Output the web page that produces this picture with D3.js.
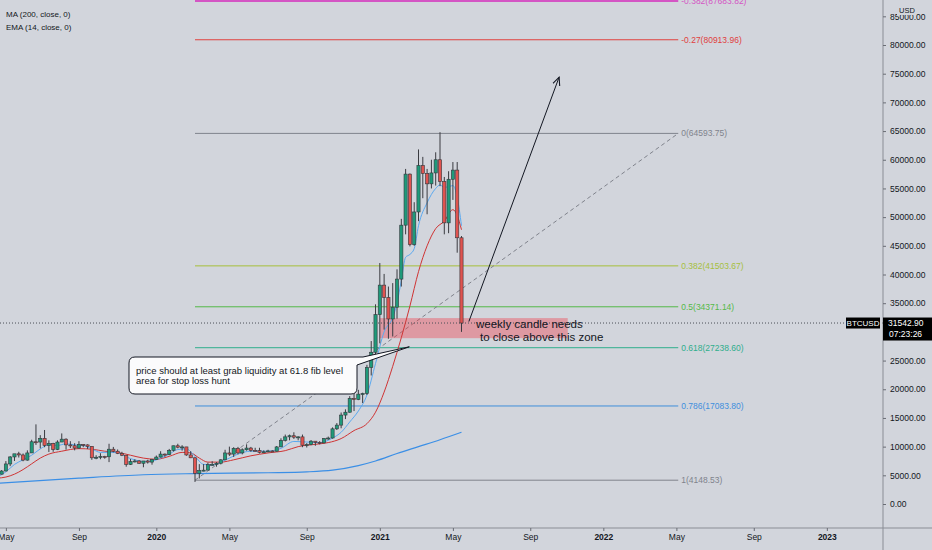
<!DOCTYPE html>
<html>
<head>
<meta charset="utf-8">
<script src="https://cdn.jsdelivr.net/npm/d3@7"></script>
<style>
  html, body { margin: 0; padding: 0; background: #d2d5dc; }
  svg { display: block; font-family: "Liberation Sans", Arial, sans-serif; }
</style>
</head>
<body>
<svg id="chart" width="932" height="550"></svg>
<script>
// weekly candles, BTCUSD, first week starts 2019-04-22 (Monday)
var firstWeek = "2019-04-22";
var opens = [5380,5200,5750,6980,8200,8750,8550,7650,8900,10850,10800,11450,10200,10550,9500,10800,11300,10300,10150,9750,10400,10300,10050,8050,8150,8300,8230,9550,9200,8800,8500,6900,7400,7500,7100,7500,7300,
  7750,8180,8700,8600,9350,10150,9900,9950,8550,8050,5350,5850,5900,6850,6900,7100,7700,8900,8700,9700,8900,9450,9750,9350,9300,9000,9100,9250,9200,9950,11100,11700,11900,11650,11700,10250,10350,10950,10750,10650,11400,11500,13100,13750,15500,16000,18400,18200,19150,19250,23800,26450,
  33000,38150,36000,32250,34300,39200,48600,57500,45200,50900,59000,57600,55800,57700,60000,56200,49000,56600,58200,46400];
var highs = [5630,5900,7480,8350,8700,9100,8800,9350,11200,13880,12000,12900,11100,10660,11100,12300,11450,10950,10600,10950,10450,10400,10100,8500,8850,8400,10500,9950,9500,9100,8500,7850,7800,7650,7500,7700,7850,
  8450,9200,8800,9600,10150,10500,10250,9950,9200,8150,6950,6950,7200,7450,7300,7800,9450,10000,9900,9950,9700,10400,9950,9800,9800,9350,9450,9350,10100,11450,12100,12100,12500,11800,12100,10600,11150,10950,10950,11500,11750,13350,14100,15950,16500,18800,19450,19900,19400,24250,28400,34800,
  42000,40100,37900,38500,40900,49700,58400,57600,52600,61800,60500,58400,60000,61300,64800,57000,58000,59600,59600,46700];
var lows = [5050,5150,5700,6600,7500,8100,7450,7550,8900,10300,9700,9900,9070,9100,9400,10800,9470,9750,9350,9650,9900,9600,7700,7800,7800,7900,7300,9000,8700,8350,6500,6800,7250,7000,6400,7050,6850,
  7700,8100,8250,8500,9150,9700,9300,8400,8000,3850,4450,5700,5900,6750,6500,6900,7650,8400,8200,8650,8650,9300,9100,9200,8800,8950,9050,9000,9150,9950,10900,11100,11350,11100,9900,9850,10250,10150,10400,10550,11200,11400,12900,13200,14800,15900,16200,18100,17600,19000,22400,25900,
  28000,30400,28800,29200,32300,37900,47000,44900,45000,49300,53300,50500,55000,55500,55400,47000,47200,53000,43800,30000];
var closes = [5200,5750,6980,8200,8750,8550,7650,8900,10850,10800,11450,10200,10550,9500,10800,11300,10300,10150,9750,10400,10300,10050,8050,8150,8300,8230,9550,9200,8800,8500,6900,7400,7500,7100,7500,7300,7750,
  8180,8700,8600,9350,10150,9900,9950,8550,8050,5350,5850,5900,6850,6900,7100,7700,8900,8700,9700,8900,9450,9750,9350,9300,9000,9100,9250,9200,9950,11100,11700,11900,11650,11700,10250,10350,10950,10750,10650,11400,11500,13100,13750,15500,16000,18400,18200,19150,19250,23800,26450,33000,
  38150,36000,32250,34300,39200,48600,57500,45200,50900,59000,57600,55800,57700,60000,56200,49000,56600,58200,46400,31542.9];

// indicator lines at sample weeks
var ma200Dates = ["2019-04-22","2019-09-02","2019-12-16","2020-03-09","2020-07-06","2020-09-07","2020-10-19","2020-11-30","2020-12-28","2021-02-01","2021-03-08","2021-04-12","2021-05-17"];
var ma200Values = [3600,4500,5100,5300,5450,5600,5900,6700,7500,8800,10000,11200,12500];

var fastDates = ["2019-04-22","2019-05-06","2019-05-20","2019-06-03","2019-06-17","2019-07-01","2019-07-15","2019-07-29","2019-08-12","2019-08-26","2019-09-09","2019-09-23","2019-10-07","2019-10-21","2019-11-04","2019-11-18","2019-12-02","2019-12-16","2019-12-30",
  "2020-01-13","2020-01-27","2020-02-10","2020-02-24","2020-03-09","2020-03-23","2020-04-06","2020-04-20","2020-05-04","2020-05-18","2020-06-08","2020-07-06","2020-07-27","2020-08-17","2020-09-07","2020-09-28","2020-10-19","2020-11-02","2020-11-16","2020-11-30","2020-12-14","2020-12-28",
  "2021-01-11","2021-01-25","2021-02-01","2021-02-08","2021-02-15","2021-02-22","2021-03-01","2021-03-08","2021-03-22","2021-04-05","2021-04-12","2021-04-19","2021-04-26","2021-05-03","2021-05-10","2021-05-17"];
var fastValues = [4700,5600,6900,7700,8500,9600,10300,10200,10500,10300,10200,9600,9000,9000,9000,8200,7700,7400,7500,
  8000,8700,9500,9600,8300,6900,6800,7300,8000,8700,9200,9200,9700,10900,10800,10700,11500,12500,14300,16200,19000,24500,
  30000,32500,35000,39000,43000,43500,44500,48500,52500,55000,55600,55200,55300,55500,53500,48500];

var slowDates = ["2019-04-22","2019-05-06","2019-05-20","2019-06-03","2019-06-17","2019-07-01","2019-07-15","2019-08-05","2019-09-02","2019-09-23","2019-10-14","2019-11-04","2019-11-25","2019-12-16",
  "2020-01-06","2020-01-27","2020-02-17","2020-03-02","2020-03-16","2020-03-30","2020-04-20","2020-05-11","2020-06-08","2020-07-06","2020-08-03","2020-08-24","2020-09-21","2020-10-12","2020-11-02","2020-11-23","2020-12-14","2020-12-28",
  "2021-01-11","2021-01-25","2021-02-08","2021-02-22","2021-03-08","2021-03-22","2021-04-05","2021-04-19","2021-05-03","2021-05-10","2021-05-17"];
var slowValues = [4500,4700,5200,6000,7000,8000,8700,9200,9650,9550,9200,9000,8500,8000,
  7800,8300,9000,8900,8000,7300,7300,7700,8400,8900,9300,10000,10400,10700,11400,12800,14000,16000,
  19500,24000,29000,34500,40500,45000,48000,49300,51300,50300,47800];

// fibonacci retracement
var fibRatios = ["-0.382","-0.27","0","0.382","0.5","0.618","0.786","1"];
var fibPrices = [87683.82,80913.96,64593.75,41503.67,34371.14,27238.60,17083.80,4148.53];
var fibColors = ["#d455c4","#e0403e","#80838c","#a6bf3c","#54b948","#2fae8c","#3f8fdc","#80838c"];
var fibStart = "2020-03-09", fibEnd = "2022-05-05";

// axis ticks (30000 sits under the last-price box)
var priceTicks = [0,5000,10000,15000,20000,25000,35000,40000,45000,50000,55000,60000,65000,70000,75000,80000,85000];
var timeTickDates = ["2019-05-06","2019-09-02","2020-01-06","2020-05-04","2020-09-07","2021-01-04","2021-05-03","2021-09-06","2022-01-03","2022-05-02","2022-09-05","2023-01-02"];
var timeTickLabels = ["May","Sep","2020","May","Sep","2021","May","Sep","2022","May","Sep","2023"];

var lastPrice = 31542.90;
var zonePrices = [32400, 28900];
var zoneDates = ["2021-01-04", "2021-11-06"];

var parse = d3.utcParse("%Y-%m-%d");
var W = 932, H = 550, plotRight = 883, axisY = 528;
var bg = "#d2d5dc", ink = "#131722";

var x = d3.scaleUtc().domain([parse("2020-03-09"), parse("2021-04-12")]).range([195, 440]);
var y = d3.scaleLinear().domain([0, 80000]).range([504, 45]);

var weeks = d3.utcMonday.range(parse(firstWeek), d3.utcDay.offset(parse(firstWeek), 7 * closes.length));
var candles = weeks.map(function (d, i) {
  return { date: d, o: opens[i], h: highs[i], l: lows[i], c: closes[i] };
});

var svg = d3.select("#chart");
svg.append("rect").attr("width", W).attr("height", H).attr("fill", bg);

svg.append("defs").append("clipPath").attr("id", "plot")
  .append("rect").attr("x", 0).attr("y", 0).attr("width", plotRight).attr("height", axisY);
svg.select("defs").append("marker")
  .attr("id", "arrow").attr("viewBox", "0 0 10 10").attr("refX", 9).attr("refY", 5)
  .attr("markerWidth", 9).attr("markerHeight", 9).attr("orient", "auto")
  .append("path").attr("d", "M0,1 L9,5 L0,9").attr("fill", "none").attr("stroke", ink).attr("stroke-width", 1.2);

var plot = svg.append("g").attr("clip-path", "url(#plot)");

// fib levels
var fx0 = x(parse(fibStart)), fx1 = x(parse(fibEnd));
fibPrices.forEach(function (p, i) {
  plot.append("line")
    .attr("x1", fx0).attr("x2", fx1).attr("y1", y(p)).attr("y2", y(p))
    .attr("stroke", fibColors[i]).attr("stroke-width", i === 0 ? 2 : 1);
  plot.append("text")
    .attr("x", fx1 + 3).attr("y", y(p)).attr("dy", "0.35em")
    .attr("font-size", 8.5).attr("fill", fibColors[i])
    .text(fibRatios[i] + "(" + p.toFixed(2) + ")");
});
plot.append("line")
  .attr("x1", fx0).attr("y1", y(fibPrices[7])).attr("x2", fx1).attr("y2", y(fibPrices[2]))
  .attr("stroke", "#80838c").attr("stroke-dasharray", "4,3");

// zone
var zx0 = x(parse(zoneDates[0])), zx1 = x(parse(zoneDates[1]));
plot.append("rect")
  .attr("x", zx0).attr("width", zx1 - zx0)
  .attr("y", y(zonePrices[0])).attr("height", y(zonePrices[1]) - y(zonePrices[0]))
  .attr("fill", "#f23645").attr("fill-opacity", 0.38);

// current price line
plot.append("line")
  .attr("x1", 0).attr("x2", plotRight).attr("y1", y(lastPrice)).attr("y2", y(lastPrice))
  .attr("stroke", "#4a4d55").attr("stroke-dasharray", "1,2");

// indicator lines
function drawLine(dates, values, color, width) {
  var pts = dates.map(function (d, i) { return [parse(d), values[i]]; });
  plot.append("path")
    .datum(pts)
    .attr("fill", "none").attr("stroke", color).attr("stroke-width", width)
    .attr("d", d3.line().x(function (d) { return x(d[0]); }).y(function (d) { return y(d[1]); }).curve(d3.curveMonotoneX));
}
drawLine(ma200Dates, ma200Values, "#3b8fe6", 1.2);
drawLine(slowDates, slowValues, "#cf3434", 1);
drawLine(fastDates, fastValues, "#5aa9f0", 1);

// candles
var bodyW = 3.2;
var g = plot.append("g");
g.selectAll(".wick").data(candles).enter().append("line")
  .attr("x1", function (d) { return x(d.date); }).attr("x2", function (d) { return x(d.date); })
  .attr("y1", function (d) { return y(d.h); }).attr("y2", function (d) { return y(d.l); })
  .attr("stroke", "#3a3b40").attr("stroke-width", 1);
g.selectAll(".body").data(candles).enter().append("rect")
  .attr("x", function (d) { return x(d.date) - bodyW / 2; })
  .attr("width", bodyW)
  .attr("y", function (d) { return y(Math.max(d.o, d.c)); })
  .attr("height", function (d) { return Math.max(1, Math.abs(y(d.o) - y(d.c))); })
  .attr("fill", function (d) { return d.c >= d.o ? "#1f9a7a" : "#e0534f"; })
  .attr("stroke", "#34363b").attr("stroke-width", 0.6);

// arrow
plot.append("line")
  .attr("x1", x(parse("2021-05-29"))).attr("y1", y(31800))
  .attr("x2", x(parse("2021-10-23"))).attr("y2", y(74400))
  .attr("stroke", ink).attr("stroke-width", 1).attr("marker-end", "url(#arrow)");

// zone text
var zt = plot.append("text").attr("font-size", 11.5).attr("fill", ink);
zt.append("tspan").attr("x", 476).attr("y", 328).text("weekly candle needs");
zt.append("tspan").attr("x", 480).attr("y", 341).text("to close above this zone");

// callout
var tipX = x(parse("2021-02-21")), tipY = y(27400);
var bl = 129, bt = 357, br = 357, bb = 394, r = 6;
plot.append("path")
  .attr("d", "M" + (bl + r) + "," + bt + " H" + (br + 6) + " L" + tipX + "," + tipY + " L" + br + "," + (bt + 8) +
    " V" + (bb - r) + " Q" + br + "," + bb + " " + (br - r) + "," + bb + " H" + (bl + r) +
    " Q" + bl + "," + bb + " " + bl + "," + (bb - r) + " V" + (bt + r) + " Q" + bl + "," + bt + " " + (bl + r) + "," + bt + " Z")
  .attr("fill", "#fbfbfc").attr("stroke", ink).attr("stroke-width", 1);
var ct = plot.append("text").attr("font-size", 9.5).attr("fill", ink);
ct.append("tspan").attr("x", 136).attr("y", 374).text("price should at least grab liquidity at 61.8 fib level");
ct.append("tspan").attr("x", 136).attr("y", 384).text("area for stop loss hunt");

// legend
svg.append("text").attr("x", 6).attr("y", 17).attr("font-size", 8).attr("fill", ink).text("MA (200, close, 0)");
svg.append("text").attr("x", 6).attr("y", 30).attr("font-size", 8).attr("fill", ink).text("EMA (14, close, 0)");

// price axis
svg.append("line").attr("x1", plotRight).attr("x2", plotRight).attr("y1", 0).attr("y2", H)
  .attr("stroke", "#8a8d95");
var yAxis = svg.append("g").attr("transform", "translate(" + plotRight + ",0)")
  .call(d3.axisRight(y).tickValues(priceTicks).tickFormat(function (d) { return d.toFixed(2); }).tickSize(3).tickPadding(4));
yAxis.select(".domain").remove();
yAxis.selectAll(".tick line").attr("stroke", "#6a6d75");
yAxis.selectAll("text").attr("font-size", 8.5).attr("fill", ink).attr("font-family", "Liberation Sans, Arial, sans-serif");

svg.append("rect").attr("x", 897).attr("y", 5).attr("width", 18).attr("height", 10).attr("fill", bg);
svg.append("text").attr("x", 899).attr("y", 13).attr("font-size", 7.5).attr("fill", ink).text("USD");

// time axis
svg.append("line").attr("x1", 0).attr("x2", W).attr("y1", axisY).attr("y2", axisY).attr("stroke", "#8a8d95");
var xAxis = svg.append("g").attr("transform", "translate(0," + axisY + ")")
  .call(d3.axisBottom(x).tickValues(timeTickDates.map(parse))
    .tickFormat(function (d, i) { return timeTickLabels[i]; }).tickSize(3).tickPadding(3));
xAxis.select(".domain").remove();
xAxis.selectAll(".tick line").attr("stroke", "#6a6d75");
xAxis.selectAll("text").attr("font-size", 8.5).attr("fill", ink).attr("font-family", "Liberation Sans, Arial, sans-serif")
  .attr("font-weight", function (d, i) { return /^\d/.test(timeTickLabels[i]) ? "bold" : "normal"; });

// last price labels
var ly = y(lastPrice);
svg.append("rect").attr("x", 846).attr("y", ly - 5.5).attr("width", 34).attr("height", 11).attr("fill", "#000");
svg.append("text").attr("x", 863).attr("y", ly).attr("dy", "0.35em").attr("text-anchor", "middle")
  .attr("font-size", 8).attr("fill", "#fff").text("BTCUSD");
svg.append("rect").attr("x", plotRight).attr("y", ly - 5.5).attr("width", W - plotRight).attr("height", 23).attr("fill", "#000");
svg.append("text").attr("x", 888).attr("y", ly).attr("dy", "0.35em")
  .attr("font-size", 8.5).attr("fill", "#fff").text(lastPrice.toFixed(2));
svg.append("text").attr("x", 889).attr("y", ly + 11.5).attr("dy", "0.35em")
  .attr("font-size", 8.5).attr("fill", "#fff").text("07:23:26");
</script>
</body>
</html>
